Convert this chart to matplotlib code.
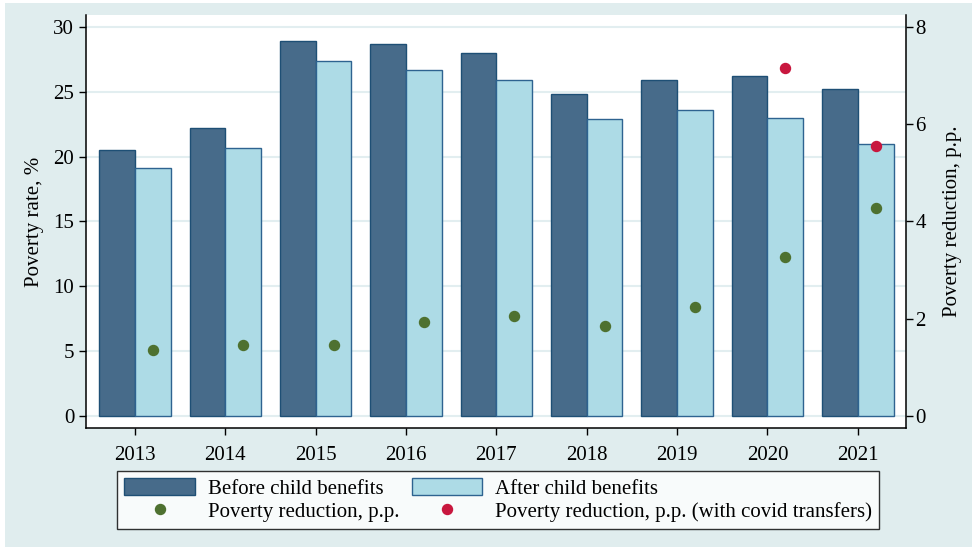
import numpy as np
import matplotlib
matplotlib.use('Agg')
import matplotlib.pyplot as plt
from matplotlib.patches import Rectangle

#%% data
years = [2013, 2014, 2015, 2016, 2017, 2018, 2019, 2020, 2021]
before = [20.5, 22.2, 28.9, 28.7, 28.0, 24.8, 25.9, 26.2, 25.2]
after = [19.1, 20.7, 27.4, 26.7, 25.9, 22.9, 23.6, 22.95, 20.95]
reduction = [1.35, 1.47, 1.45, 1.93, 2.06, 1.86, 2.25, 3.26, 4.28]
covid_years = [2020, 2021]
reduction_covid = [7.15, 5.56]

left_ticks = [0, 5, 10, 15, 20, 25, 30]
right_ticks = [0, 2, 4, 6, 8]

#%% style
plt.rcParams['font.family'] = ['Liberation Serif', 'DejaVu Serif']
fs = 15
bg = '#E0EDEE'
dark = '#476B8A'
dark_edge = '#1E4F75'
light = '#ADDBE6'
light_edge = '#2E6390'
green = '#4E7130'
red = '#C8173E'

fig = plt.figure(figsize=(9.72, 5.47), dpi=100)
fig.patches.append(Rectangle((5 / 972, 0), 1, 544 / 547, transform=fig.transFigure,
                             facecolor=bg, edgecolor='none', zorder=-10))

ax = fig.add_axes([86 / 972, 1 - 428 / 547, (905.7 - 86) / 972, (428 - 15) / 547])
ax.set_facecolor('white')

x = np.array(years, dtype=float)
w = 0.395
ax.bar(x - w / 2, before, width=w, color=dark, edgecolor=dark_edge, linewidth=1.0,
       label='Before child benefits', zorder=2)
ax.bar(x + w / 2, after, width=w, color=light, edgecolor=light_edge, linewidth=1.0,
       label='After child benefits', zorder=2)

ylo, yhi = -0.925, 30.92
ax.set_ylim(ylo, yhi)
ax.set_xlim(2012.457, 2021.53)
ax.set_yticks(left_ticks)
ax.set_xticks(years)
for t in left_ticks:
    ax.axhline(t, color='#E2EEF0', linewidth=1.5, zorder=1)

ax.set_ylabel('Poverty rate, %', fontsize=fs, labelpad=7)
ax.tick_params(axis='both', labelsize=fs, direction='out', length=5, width=1, colors='black')
ax.tick_params(axis='x', pad=8)
ax.spines['top'].set_visible(False)
ax.spines['right'].set_visible(False)
for s in ['left', 'bottom']:
    ax.spines[s].set_linewidth(1.1)

ax2 = ax.twinx()
ratio = 30 / 8
ax2.set_ylim(ylo / ratio, yhi / ratio)
ax2.set_yticks(right_ticks)
ax2.plot(x + w / 2, reduction, 'o', color=green, markersize=7.2, linestyle='none',
         label='Poverty reduction, p.p.', zorder=3)
ax2.plot(np.array(covid_years) + w / 2, reduction_covid, 'o', color=red, markersize=7.2,
         linestyle='none', label='Poverty reduction, p.p. (with covid transfers)', zorder=3)
ax2.set_ylabel('Poverty reduction, p.p.', fontsize=fs, labelpad=12)
ax2.tick_params(axis='y', labelsize=fs, direction='out', length=5, width=1, pad=2)
ax2.spines['top'].set_visible(False)
ax2.spines['left'].set_visible(False)
ax2.spines['bottom'].set_visible(False)
ax2.spines['right'].set_linewidth(1.1)

h1, l1 = ax.get_legend_handles_labels()
h2, l2 = ax2.get_legend_handles_labels()
handles = [h1[0], h2[0], h1[1], h2[1]]
labels = [l1[0], l2[0], l1[1], l2[1]]
leg = fig.legend(handles, labels, loc='center', bbox_to_anchor=(498 / 972, 1 - 500 / 547),
                 ncol=2, fontsize=fs, frameon=True, fancybox=False, edgecolor='black',
                 handlelength=3.4, handleheight=0.9, handletextpad=0.6,
                 columnspacing=0.6, labelspacing=0.12, borderpad=0.35, borderaxespad=0)
leg.get_frame().set_linewidth(1.0)

fig.savefig('out.png', dpi=100)
